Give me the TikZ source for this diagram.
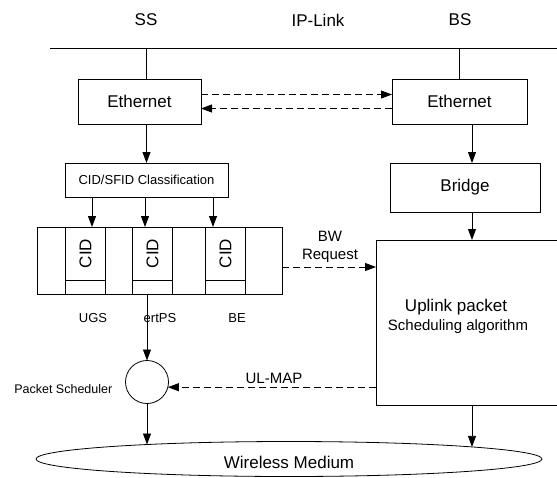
\documentclass[tikz,border=0pt]{standalone}
\usepackage{fontspec}
\setmainfont{Liberation Sans}
\usetikzlibrary{arrows.meta,shapes.geometric,calc}

\begin{document}
\begin{tikzpicture}[x=1pt, y=-1pt, line width=0.8pt,
      every node/.style={font=\fontsize{17}{20}\selectfont},
      box/.style={draw, rectangle, inner sep=0pt, outer sep=0pt},
      smalltext/.style={font=\fontsize{13}{15}\selectfont},
      midtext/.style={font=\fontsize{15}{18}\selectfont},
      arr/.style={-{Triangle[length=11pt,width=8pt]}},
      dasharr/.style={arr, dash pattern=on 7pt off 4pt}]
    \useasboundingbox (0,0) rectangle (557,477);
    % header and link
    \node (ss) at (146,20) {SS};
    \node (ip) at (318,20) {IP-Link};
    \node (bs) at (460,20) {BS};
    \coordinate (linkL) at (50,48);
    \coordinate (linkR) at (557,48);
    \draw (linkL) -- (linkR);
    % SS side
    \node[box, minimum width=123pt, minimum height=45pt] (eth1) at (139.5,101.5) {Ethernet};
    \node[box, smalltext, minimum width=163pt, minimum height=34pt] (cls) at (146.5,180) {CID/SFID Classification};
    \node[box, minimum width=245pt, minimum height=67pt] (queue) at (159.5,260.5) {};
    \foreach \x/\a/\i in {85.5/92/1, 152.5/145/2, 225.5/213/3} {
      \node[box, minimum width=40pt, minimum height=67pt] (q\i) at (\x,260.5) {};
      \draw (q\i.south west) ++(0,-14) -- ++(40,0);
      \node[rotate=90] (cid\i) at (\x,253.5) {CID};
      \coordinate (c\i) at (\a,0);
      \draw[arr] (cls.south -| c\i) -- (q\i.north -| c\i);
    }
    \node[smalltext] (ugs) at (93,318) {UGS};
    \node[smalltext] (ertps) at (160,318) {ertPS};
    \node[smalltext] (be) at (237,318) {BE};
    \node[draw, circle, minimum size=43pt, inner sep=0pt, outer sep=0pt] (sched) at (147,382) {};
    \node[font=\fontsize{12.5}{15}\selectfont, anchor=east] (schedlbl) at (116,389) {Packet Scheduler};
    % BS side
    \node[box, minimum width=135pt, minimum height=45pt] (eth2) at (459.5,101.5) {Ethernet};
    \node[box, minimum width=150pt, minimum height=49pt] (bridge) at (465,187.5) {Bridge};
    \node[box, minimum width=182pt, minimum height=165pt] (ul) at (467,322.5) {};
    \node (ultext) at (456,307) {Uplink packet};
    \node[midtext] (algtext) at (458,327) {Scheduling algorithm};
    \node[draw, ellipse, minimum width=506pt, minimum height=35pt, inner sep=0pt, outer sep=0pt] (wm) at (289,459) {};
    \node (wmtext) at (289,462) {Wireless Medium};
    \coordinate (bscol) at (472,0);
    \coordinate (bwy) at (0,267);
    % points where the arrows meet the medium
    \coordinate (wmL) at (147,444.5);
    \coordinate (wmR) at (472,446.9);
    % connectors
    \draw (cls.north |- linkL) -- (cls.north |- eth1.north);
    \draw (eth2.north |- linkL) -- (eth2.north);
    \draw[arr] (cls.north |- eth1.south) -- (cls.north);
    \draw[arr] (eth2.south -| bscol) -- (bridge.north -| bscol);
    \draw[arr] (bridge.south -| bscol) -- (ul.north -| bscol);
    \draw[dasharr] ($(eth1.east)+(0,-7)$) -- ($(eth2.west)+(0,-7)$);
    \draw[dasharr] ($(eth2.west)+(0,7)$) -- ($(eth1.east)+(0,7)$);
    \draw[dasharr] (queue.east |- bwy) -- (ul.west |- bwy);
    \node[midtext, align=center] (bwlbl) at (330,247) {BW\\Request};
    \draw[arr] (sched.north |- queue.south) -- (sched.north);
    \draw[dasharr] (ul.west |- sched.-14) -- (sched.-14);
    \node[midtext] (ulmap) at (274,378) {UL-MAP};
    \draw[arr] (sched.south) -- (wmL);
    \draw[arr] (ul.south -| bscol) -- (wmR);
  \end{tikzpicture}
\end{document}
